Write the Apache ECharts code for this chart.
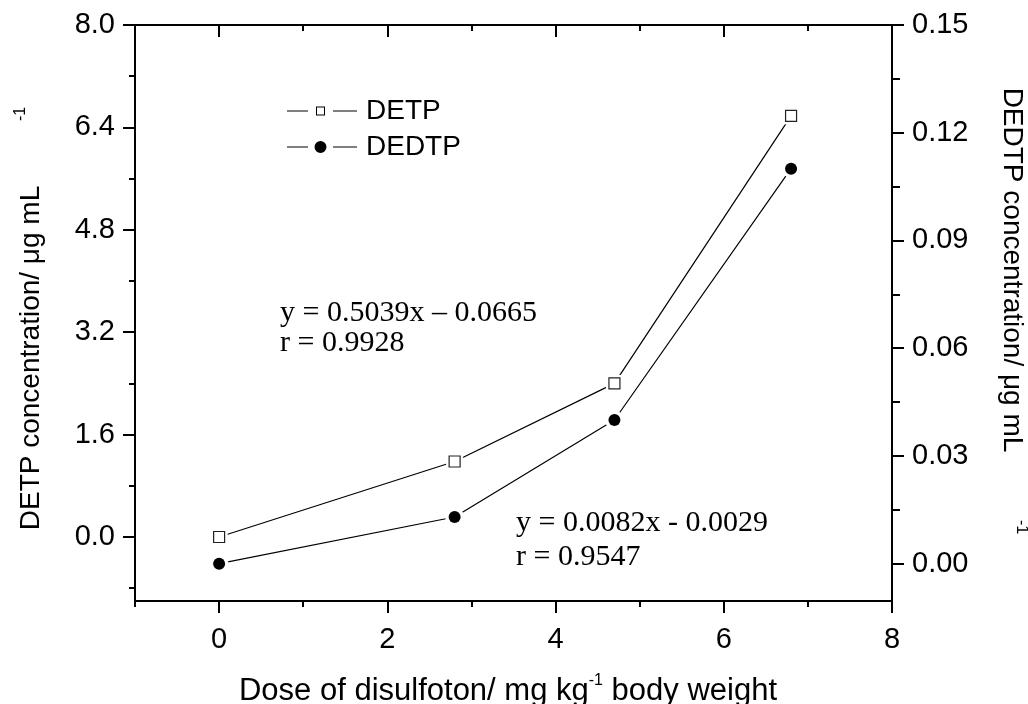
<!DOCTYPE html>
<html><head><meta charset="utf-8">
<script src="https://cdn.jsdelivr.net/npm/echarts@6/dist/echarts.min.js"></script>
<style>html,body{margin:0;padding:0;background:#fff}#c{width:1028px;height:704px}</style>
</head><body><div id="c"></div>
<script>
// ---- data ----
const doseX = [0, 2.8, 4.7, 6.8];
const detpValues = [0.0, 1.18, 2.40, 6.58];
const dedtpValues = [0.0, 0.013, 0.040, 0.110];
const seriesNames = ['DETP', 'DEDTP'];
// ---- tick labels / positions ----
const xMajorTicks = [0, 2, 4, 6, 8];
const xMinorTicks = [-1, 1, 3, 5, 7];
const topMajorTicks = [0, 2, 4, 6];
const topMinorTicks = [1, 3, 5, 7];
const leftMajorTicks = [0, 1.6, 3.2, 4.8, 6.4, 8.0];
const leftMinorTicks = [-0.8, 0.8, 2.4, 4.0, 5.6, 7.2];
const rightMajorTicks = [0, 0.03, 0.06, 0.09, 0.12, 0.15];
const rightMinorTicks = [0.015, 0.045, 0.075, 0.105, 0.135];
// ---- texts ----
const xTitle = 'Dose of disulfoton/ mg kg{sup|-1} body weight';
const leftTitle = 'DETP concentration/ μg mL';
const rightTitle = 'DEDTP concentration/ μg mL';
const supText = '-1';
const equation1 = ['y = 0.5039x – 0.0665', 'r = 0.9928'];
const equation2 = ['y = 0.0082x - 0.0029', 'r = 0.9547'];

const SANS = "'Liberation Sans', Arial, sans-serif";
const SERIF = "'Liberation Serif', 'Times New Roman', serif";
const LW = 2;
const TICK_FS = 29;

function axis(pos, min, max, o) {
  return {
    type: 'value', position: pos, min: min, max: max,
    axisLine: { show: !!o.line, onZero: false, lineStyle: { color: '#000', width: LW } },
    axisTick: { show: true, customValues: o.ticks, length: o.len, inside: !!o.inside,
                lineStyle: { color: '#000', width: LW } },
    axisLabel: o.labels ? { show: true, customValues: o.labels, formatter: o.fmt, margin: o.margin,
                color: '#000', fontSize: TICK_FS, fontFamily: SANS } : { show: false },
    splitLine: { show: false }
  };
}

const chart = echarts.init(document.getElementById('c'), null, { renderer: 'canvas' });
const pairs = (vals) => doseX.map((x, i) => [x, vals[i]]);

const detpIcon = 'path://M0,6.5h21v1H0z M29,2.5h9v9h-9z M30,3.5v7h7v-7z M46,6.5h24v1H46z';
const dedtpIcon = 'path://M0,6.5h21v1H0z M27.5,7a6,6 0 1,0 12,0a6,6 0 1,0 -12,0z M46,6.5h24v1H46z';

chart.setOption({
  animation: false,
  backgroundColor: '#fff',
  grid: { left: 135, right: 136, top: 25, bottom: 103, containLabel: false, outerBoundsMode: 'none' },
  xAxis: [
    axis('bottom', -1, 8, { line: true, ticks: xMajorTicks, len: 12, labels: xMajorTicks,
      fmt: v => String(v), margin: 24 }),
    axis('bottom', -1, 8, { ticks: xMinorTicks, len: 6 }),
    axis('top', -1, 8, { line: true, ticks: topMajorTicks, len: 12, inside: true }),
    axis('top', -1, 8, { ticks: topMinorTicks, len: 6, inside: true })
  ],
  yAxis: [
    axis('left', -1, 8, { line: true, ticks: leftMajorTicks, len: 12, labels: leftMajorTicks,
      fmt: v => v.toFixed(1), margin: 20 }),
    axis('right', -0.0104, 0.15, { line: true, ticks: rightMajorTicks, len: 12, labels: rightMajorTicks,
      fmt: v => v.toFixed(2), margin: 20 }),
    axis('left', -1, 8, { ticks: leftMinorTicks, len: 6 }),
    axis('right', -0.0104, 0.15, { ticks: rightMinorTicks, len: 8 })
  ],
  legend: {
    orient: 'vertical', left: 287, top: 97, padding: 0, itemGap: 8,
    itemWidth: 70, itemHeight: 14, selectedMode: false,
    itemStyle: { color: '#000', borderWidth: 0 },
    textStyle: { color: '#000', fontSize: 28, fontFamily: SANS, lineHeight: 28, padding: [0, 0, 0, 4] },
    data: [{ name: seriesNames[0], icon: detpIcon }, { name: seriesNames[1], icon: dedtpIcon }]
  },
  series: [
    { name: seriesNames[0], type: 'line', xAxisIndex: 0, yAxisIndex: 0, data: pairs(detpValues),
      symbol: 'none', z: 2, itemStyle: { color: '#000' }, lineStyle: { color: '#000', width: 1.2 } },
    { name: seriesNames[1], type: 'line', xAxisIndex: 0, yAxisIndex: 1, data: pairs(dedtpValues),
      symbol: 'none', z: 2, itemStyle: { color: '#000' }, lineStyle: { color: '#000', width: 1.2 } },
    { name: 'gap1', type: 'scatter', xAxisIndex: 0, yAxisIndex: 0, data: pairs(detpValues), silent: true,
      symbol: 'rect', symbolSize: 17, z: 3, itemStyle: { color: '#fff', opacity: 1 } },
    { name: 'gap2', type: 'scatter', xAxisIndex: 0, yAxisIndex: 1, data: pairs(dedtpValues), silent: true,
      symbol: 'circle', symbolSize: 19, z: 3, itemStyle: { color: '#fff', opacity: 1 } },
    { name: seriesNames[0], type: 'scatter', xAxisIndex: 0, yAxisIndex: 0, data: pairs(detpValues),
      symbol: 'rect', symbolSize: 11, z: 4,
      itemStyle: { color: '#fff', borderColor: '#222', borderWidth: 1.2, opacity: 1 } },
    { name: seriesNames[1], type: 'scatter', xAxisIndex: 0, yAxisIndex: 1, data: pairs(dedtpValues),
      symbol: 'circle', symbolSize: 12, z: 4, itemStyle: { color: '#000', opacity: 1 } }
  ],
  graphic: [
    { type: 'text', x: 508, y: 691, silent: true,
      style: { text: xTitle, fill: '#000', fontSize: 31, fontFamily: SANS, align: 'center', verticalAlign: 'middle',
        rich: { sup: { fontSize: 16, fontFamily: SANS, fill: '#000', padding: [0, 0, 20, 0] } } } },
    { type: 'text', x: 31, y: 358, rotation: Math.PI / 2, silent: true,
      style: { text: leftTitle, fill: '#000', fontSize: 28, fontFamily: SANS, align: 'center', verticalAlign: 'middle' } },
    { type: 'text', x: 21, y: 114, rotation: Math.PI / 2, silent: true,
      style: { text: supText, fill: '#000', fontSize: 16, fontFamily: SANS, align: 'center', verticalAlign: 'middle' } },
    { type: 'text', x: 1012, y: 270, rotation: -Math.PI / 2, silent: true,
      style: { text: rightTitle, fill: '#000', fontSize: 28, fontFamily: SANS, align: 'center', verticalAlign: 'middle' } },
    { type: 'text', x: 1021, y: 527, rotation: -Math.PI / 2, silent: true,
      style: { text: supText, fill: '#000', fontSize: 16, fontFamily: SANS, align: 'center', verticalAlign: 'middle' } },
    { type: 'text', x: 280, y: 313, silent: true,
      style: { text: equation1[0], fill: '#000', fontSize: 30, fontFamily: SERIF, align: 'left', verticalAlign: 'middle' } },
    { type: 'text', x: 280, y: 343, silent: true,
      style: { text: equation1[1], fill: '#000', fontSize: 30, fontFamily: SERIF, align: 'left', verticalAlign: 'middle' } },
    { type: 'text', x: 516, y: 523, silent: true,
      style: { text: equation2[0], fill: '#000', fontSize: 30, fontFamily: SERIF, align: 'left', verticalAlign: 'middle' } },
    { type: 'text', x: 516, y: 557, silent: true,
      style: { text: equation2[1], fill: '#000', fontSize: 30, fontFamily: SERIF, align: 'left', verticalAlign: 'middle' } }
  ]
});
</script></body></html>
